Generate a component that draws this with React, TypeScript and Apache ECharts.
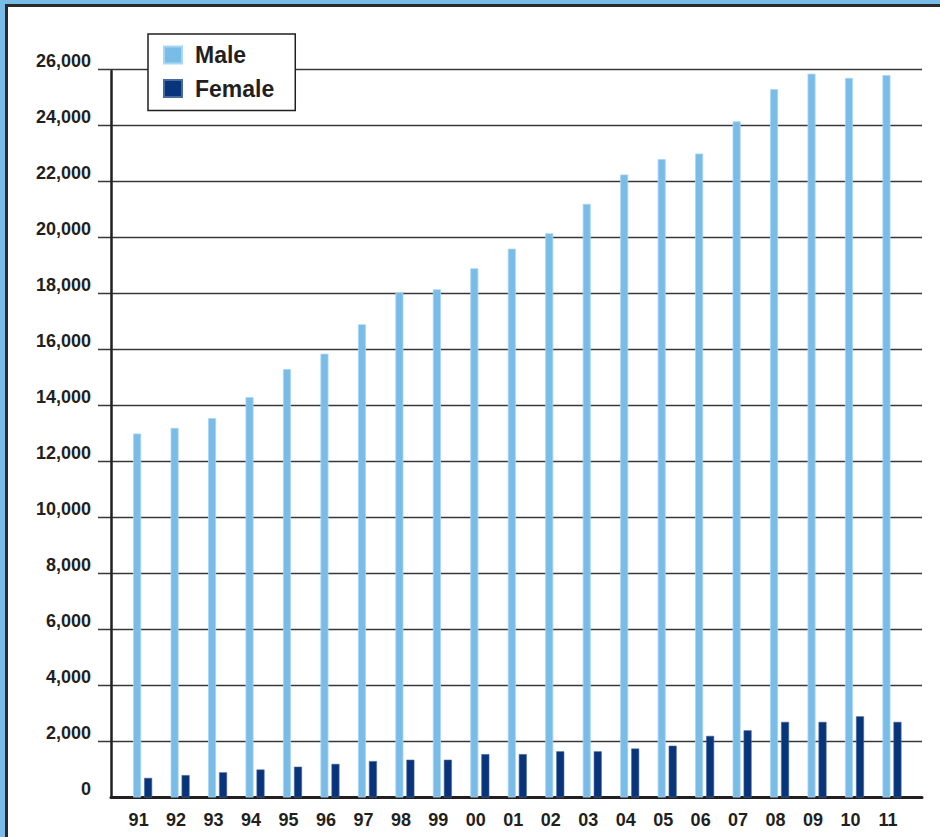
import React, { useEffect, useRef } from "react";
import * as echarts from "echarts";

const categories = ["91", "92", "93", "94", "95", "96", "97", "98", "99", "00", "01", "02", "03", "04", "05", "06", "07", "08", "09", "10", "11"];
const maleValues = [13000, 13200, 13550, 14300, 15300, 15850, 16900, 18050, 18150, 18900, 19600, 20150, 21200, 22250, 22800, 23000, 24150, 25300, 25850, 25700, 25800];
const femaleValues = [700, 800, 900, 1000, 1100, 1200, 1300, 1350, 1350, 1550, 1550, 1650, 1650, 1750, 1850, 2200, 2400, 2700, 2700, 2900, 2700];
const yMin = 0;
const yMax = 26000;
const yStep = 2000;

const FONT = "'Liberation Sans', Arial, Helvetica, sans-serif";
const DARK = "#231f20";
const BLUE = "#79bce7";
const NAVY = "#07347a";

export default function App() {
  const ref = useRef<HTMLDivElement>(null);

  useEffect(() => {
    document.body.style.margin = "0";
    if (!ref.current) return;
    const chart = echarts.init(ref.current, undefined, { renderer: "svg" });
    const top = 69.5;
    const bottom = 837 - 797.5;
    chart.setOption({
      animation: false,
      backgroundColor: "transparent",
      textStyle: { fontFamily: FONT },
      legend: {
        data: ["Male", "Female"],
        orient: "vertical",
        left: 148,
        top: 34,
        padding: [9, 21, 10, 15],
        itemGap: 9.5,
        itemWidth: 18,
        itemHeight: 17,
        icon: "rect",
        backgroundColor: "#ffffff",
        borderColor: DARK,
        borderWidth: 1.5,
        borderRadius: 0,
        textStyle: {
          fontFamily: FONT,
          fontSize: 23,
          fontWeight: "bold",
          color: DARK,
          lineHeight: 24,
          padding: [0, 0, 0, 8],
        },
        z: 10,
      },
      grid: [
        { left: 98, right: 18, top, bottom },
        { left: 111, right: 18, top: 71, bottom },
        { left: 123.9, right: 29.3, top, bottom },
      ],
      xAxis: [
        { type: "category", gridIndex: 0, data: categories, show: false },
        {
          type: "category",
          gridIndex: 1,
          data: categories,
          axisLine: { show: true, lineStyle: { color: DARK, width: 3 } },
          axisTick: { show: false },
          axisLabel: { show: false },
          splitLine: { show: false },
        },
        {
          type: "category",
          gridIndex: 2,
          data: categories,
          axisLine: { show: false },
          axisTick: { show: false },
          axisLabel: {
            color: DARK,
            fontFamily: FONT,
            fontSize: 18,
            fontWeight: "bold",
            margin: 13,
            padding: [0, 8, 0, 0],
          },
        },
      ],
      yAxis: [
        {
          type: "value",
          gridIndex: 0,
          min: yMin,
          max: yMax,
          interval: yStep,
          axisLine: { show: false },
          axisTick: { show: false },
          axisLabel: {
            color: DARK,
            fontFamily: FONT,
            fontSize: 18,
            fontWeight: "bold",
            margin: 7,
            verticalAlign: "bottom",
            formatter: (v: number) => v.toLocaleString("en-US"),
          },
          splitLine: {
            show: true,
            showMinLine: false,
            lineStyle: { color: "#383838", width: 1.3 },
          },
        },
        {
          type: "value",
          gridIndex: 1,
          min: yMin,
          max: yMax,
          interval: yStep,
          axisLine: { show: true, lineStyle: { color: DARK, width: 2.5 } },
          axisTick: { show: false },
          axisLabel: { show: false },
          splitLine: { show: false },
        },
        {
          type: "value",
          gridIndex: 2,
          min: yMin,
          max: yMax,
          interval: yStep,
          show: false,
        },
      ],
      series: [
        {
          name: "Male",
          type: "bar",
          xAxisIndex: 2,
          yAxisIndex: 2,
          data: maleValues,
          barWidth: 8,
          barGap: "37.5%",
          itemStyle: { color: BLUE, borderColor: "#a9d6f3", borderWidth: 0.8 },
          z: 3,
        },
        {
          name: "Female",
          type: "bar",
          xAxisIndex: 2,
          yAxisIndex: 2,
          data: femaleValues,
          barWidth: 8,
          barGap: "37.5%",
          itemStyle: { color: NAVY, borderColor: "#4a6a9e", borderWidth: 0.6 },
          z: 3,
        },
      ],
    });
    return () => chart.dispose();
  }, []);

  return (
    <div style={{ position: "relative", width: 940, height: 837, background: BLUE, overflow: "hidden" }}>
      <div
        style={{
          position: "absolute",
          left: 5,
          top: 4,
          width: 960,
          height: 860,
          background: "#ffffff",
          border: "3px solid #2a2a2a",
          boxSizing: "border-box",
        }}
      />
      <div ref={ref} style={{ position: "absolute", left: 0, top: 0, width: 940, height: 837 }} />
    </div>
  );
}
